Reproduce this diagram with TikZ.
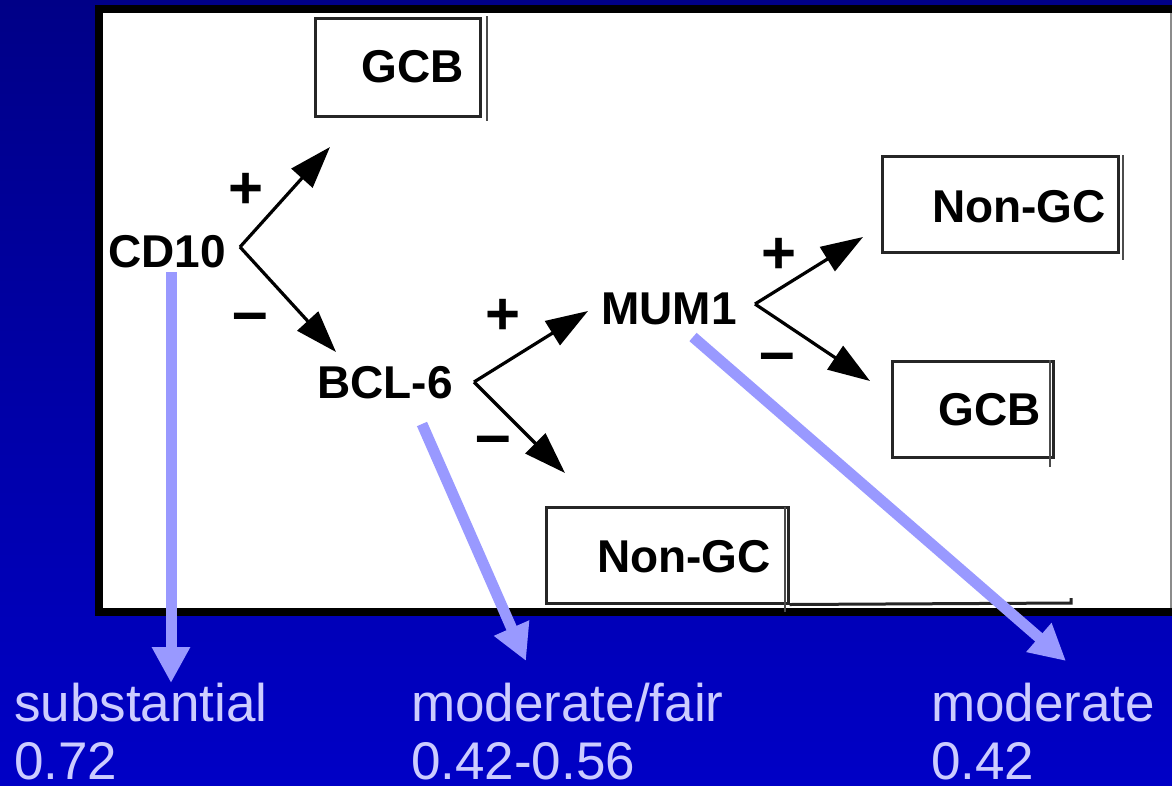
\documentclass[tikz,border=0pt]{standalone}
\usepackage{fontspec}
\setmainfont{Liberation Sans}
\usetikzlibrary{arrows.meta}
\definecolor{bgtop}{RGB}{0,0,135}
\definecolor{bgbot}{RGB}{0,0,198}
\definecolor{arrowblue}{RGB}{153,153,255}
\definecolor{restext}{RGB}{204,204,255}
\begin{document}
\begin{tikzpicture}[x=1pt,y=-1pt,
  lbl/.style={font=\fontsize{46}{50}\selectfont\bfseries, inner sep=0pt, anchor=base},
  sgn/.style={font=\fontsize{60}{60}\selectfont\bfseries, inner sep=0pt, anchor=base},
  sgnm/.style={font=\fontsize{64}{64}\selectfont\bfseries, inner sep=0pt, anchor=base},
  res/.style={font=\fontsize{53}{60}\selectfont, text=restext, inner sep=0pt, anchor=base west, text depth=0pt},
  boxe/.style={draw=black!85, line width=3pt, inner sep=0pt},
  edgeline/.style={draw=black!70, line width=2.5pt},
  fork/.style={line width=3.2pt, -{Triangle[length=42pt,width=28pt]}},
  kappa/.style={draw=arrowblue, line width=11pt, -{Triangle[length=36pt,width=36pt]}},
]
\useasboundingbox (0,0) rectangle (1172,785);
\shade[top color=bgtop, bottom color=bgbot] (0,0) rectangle (1172,785);
% panel
\fill[black] (95,5) rectangle (1172,616);
\fill[white] (103,13) rectangle (1172,608);
\draw[black!45, line width=1.5pt] (1171,13) -- (1171,608);

% boxes
\node[boxe, minimum width=165pt, minimum height=98pt] (b1) at (397.5,67) {};
\node[boxe, minimum width=236pt, minimum height=96pt] (b2) at (1000,204) {};
\node[boxe, minimum width=161pt, minimum height=96pt] (b3) at (972.5,409) {};
\node[boxe, minimum width=242pt, minimum height=96pt] (b4) at (667,555) {};
\draw[edgeline] (487,16) -- (487,121);
\draw[edgeline] (1123,155) -- (1123,260);
\draw[edgeline] (1050,360) -- (1050,467);
\draw[edgeline] (785,507) -- (785,612);
\draw[draw=black!85, line width=3pt] (b4.south east) -- (1071,603) -- (1071,598);

% labels
\node[lbl] (gcb1) at (413,82) {GCB};
\node[lbl] (nongc1) at (1019,222) {Non-GC};
\node[lbl] (gcb2) at (990,425) {GCB};
\node[lbl] (nongc2) at (684,572) {Non-GC};
\node[lbl] (cd10) at (167,267) {CD10};
\node[lbl] (bcl6) at (385,398) {BCL-6};
\node[lbl] (mum1) at (669,324) {MUM1};

% fork points
\coordinate (v1) at (240,247);
\coordinate (t1a) at (330,147);
\coordinate (t1b) at (336,352);
\coordinate (v2) at (474,382);
\coordinate (t2a) at (588,311);
\coordinate (t2b) at (565,473);
\coordinate (v3) at (755,304);
\coordinate (t3a) at (863,237);
\coordinate (t3b) at (870,381);

\draw[fork] (v1) -- (t1a);
\draw[fork] (v1) -- (t1b);
\draw[fork] (v2) -- (t2a);
\draw[fork] (v2) -- (t2b);
\draw[fork] (v3) -- (t3a);
\draw[fork] (v3) -- (t3b);

\node[sgn] (p1) at (246,208) {+};
\node[sgnm] (m1) at (250,333) {–};
\node[sgn] (p2) at (503,334) {+};
\node[sgnm] (m2) at (493,456) {–};
\node[sgn] (p3) at (779,273) {+};
\node[sgnm] (m3) at (777,373) {–};

% results
\node[res] (r1) at (14,721) {substantial};
\node[res] (r1v) at (14,779) {0.72};
\node[res] (r2) at (411,721) {moderate/fair};
\node[res] (r2v) at (411,779) {0.42-0.56};
\node[res] (r3) at (931,721) {moderate};
\node[res] (r3v) at (931,779) {0.42};

\coordinate (s1) at (171,272);
\coordinate (e1) at (171,683);
\coordinate (s2) at (422,424);
\coordinate (e2) at (526,661);
\coordinate (s3) at (693,337);
\coordinate (e3) at (1066,661);
\draw[kappa] (s1) -- (e1);
\draw[kappa] (s2) -- (e2);
\draw[kappa] (s3) -- (e3);
\end{tikzpicture}
\end{document}
